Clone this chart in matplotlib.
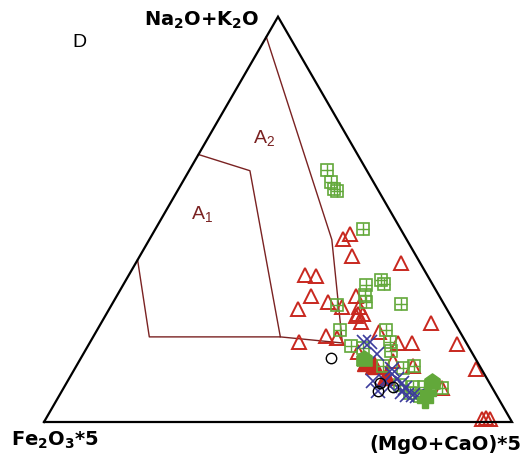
import numpy as np
import matplotlib
matplotlib.use("Agg")
import matplotlib.pyplot as plt

plt.rcParams['font.family'] = ['Liberation Sans', 'DejaVu Sans']
plt.rcParams['mathtext.fontset'] = 'custom'
plt.rcParams['mathtext.rm'] = 'Liberation Sans'
plt.rcParams['mathtext.bf'] = 'DejaVu Sans:bold'
plt.rcParams['mathtext.default'] = 'regular'

# compositions in % : Fe2O3*5, Na2O+K2O, (MgO+CaO)*5
# field boundaries
a1_fe  = [34, 25, 39, 67, 60]
a1_alk = [66, 62, 21, 21, 40]
a1_mg  = [0, 13, 40, 12, 0]

a2_fe  = [5, 16, 26.5, 39]
a2_alk = [95, 45, 19.5, 21]
a2_mg  = [0, 39, 54, 40]

# red open triangles
tri_fe  = [11.5, 13.5, 13.8, 4.1, 26.1, 23.9, 27.4, 31.8, 24.5, 22.2, 17.8, 19.6,
           18.5, 20.0, 20.3, 18.6, 29.1, 27.1, 35.6, 17.3, 5.1, 14.7, 11.7, 2.1,
           1.2, 17.9, 14.2, 10.7, 24.3, 6.0, 5.0, 4.4]
tri_alk = [46.3, 45.1, 40.9, 39.2, 36.2, 36.0, 31.0, 27.8, 29.6, 28.3, 31.0, 26.6,
           26.6, 24.6, 26.1, 28.3, 21.2, 20.7, 19.7, 22.2, 24.4, 19.5, 19.5, 19.2,
           13.1, 15.0, 13.8, 8.4, 17.2, 0.7, 1.0, 0.7]
tri_mg  = [42.2, 41.4, 45.3, 56.7, 37.7, 40.1, 41.6, 40.4, 45.9, 49.5, 51.2, 53.8,
           54.9, 55.4, 53.6, 53.1, 49.7, 52.2, 44.7, 60.5, 70.5, 65.8, 68.8, 78.7,
           85.7, 67.1, 72.0, 80.9, 58.5, 93.3, 94.0, 94.9]

# red filled triangles
ftri_fe  = [23.8, 22.5, 21.3]
ftri_alk = [14.8, 14.0, 11.3]
ftri_mg  = [61.4, 63.5, 67.4]

# green gridded squares
sq_fe  = [8.4, 9.2, 9.3, 8.9, 8.0, 14.3, 10.5, 10.3, 15.7, 16.4, 23.0, 9.2, 25.4,
          15.6, 25.0, 22.7, 16.3, 17.1, 20.7, 16.7, 14.0, 14.5, 16.8, 18.3, 19.4,
          10.7, 16.4]
sq_alk = [62.1, 59.1, 57.4, 57.1, 47.5, 33.7, 35.0, 34.0, 31.3, 29.6, 28.8, 29.1,
          22.7, 22.7, 18.7, 18.2, 19.7, 17.5, 13.8, 13.3, 13.8, 8.6, 8.6, 7.1, 9.1,
          8.4, 6.4]
sq_mg  = [29.5, 31.7, 33.3, 34.0, 44.5, 52.0, 54.5, 55.7, 53.0, 54.0, 48.2, 61.7,
          51.9, 61.7, 56.3, 59.1, 64.0, 65.4, 65.5, 70.0, 72.2, 76.9, 74.6, 74.6,
          71.5, 80.9, 77.2]

# blue crosses
x_fe  = [20.5, 20.5, 24.6, 19.7, 19.3, 18.7, 18.7, 19.0, 17.8, 21.6, 22.1, 17.1,
         19.0, 19.8, 21.8, 24.8]
x_alk = [19.7, 16.7, 10.1, 11.8, 10.6, 9.6, 8.4, 6.7, 6.7, 8.9, 10.1, 6.4,
         13.1, 7.4, 19.7, 7.6]
x_mg  = [59.8, 62.8, 65.3, 68.5, 70.1, 71.7, 72.9, 74.3, 75.5, 69.5, 67.8, 76.5,
         67.9, 72.8, 58.5, 67.6]

# black open circles
c_fe  = [30.8, 24.8, 23.4, 21.1]
c_alk = [15.8, 7.6, 9.6, 8.6]
c_mg  = [53.4, 67.6, 67.0, 70.3]

# green filled "house" symbols
h_fe  = [23.7, 12.1]
h_alk = [15.8, 10.1]
h_mg  = [60.5, 77.8]

# green filled crosses
p_fe  = [15.9, 14.4]
p_alk = [5.4, 7.1]
p_mg  = [78.7, 78.5]

S3 = np.sqrt(3) / 2


def tern(fe, alk, mg):
    fe, alk, mg = map(np.asarray, (fe, alk, mg))
    tot = fe + alk + mg
    a = alk / tot
    m = mg / tot
    return m + a / 2, a * S3


red = '#c8281f'
green = '#62a83a'
blue = '#3c3c9c'
brown = '#7a2222'

fig = plt.figure(figsize=(5.26, 4.60), dpi=100)
ax = fig.add_axes([0, 0, 1, 1])
ax.set_xlim(-44 / 468, 482 / 468)
ax.set_ylim(-37 / 468, 423 / 468)
ax.axis('off')

# outer triangle
ax.plot([0, 1, 0.5, 0], [0, 0, S3, 0], color='black', lw=1.6, zorder=5,
        solid_joinstyle='miter')

# fields A1 and A2
x1, y1 = tern(a1_fe, a1_alk, a1_mg)
ax.plot(x1, y1, color=brown, lw=1.0)
x2, y2 = tern(a2_fe, a2_alk, a2_mg)
ax.plot(x2, y2, color=brown, lw=1.0)

ax.text(0.470, 0.609, r'A$_2$', color=brown, fontsize=14, ha='center', va='center')
ax.text(0.338, 0.447, r'A$_1$', color=brown, fontsize=14, ha='center', va='center')

# samples
tx, ty = tern(tri_fe, tri_alk, tri_mg)
ax.plot(tx, ty, ls='none', marker='^', ms=10, mfc='none', mec=red, mew=1.4, zorder=3)
fx, fy = tern(ftri_fe, ftri_alk, ftri_mg)
ax.plot(fx, fy, ls='none', marker='^', ms=13, mfc=red, mec=red, zorder=3)
sx, sy = tern(sq_fe, sq_alk, sq_mg)
ax.plot(sx, sy, ls='none', marker='s', ms=8.5, mfc='none', mec=green, mew=1.2, zorder=4)
ax.plot(sx, sy, ls='none', marker='+', ms=8.5, mec=green, mew=1.0, zorder=4)
xx, xy = tern(x_fe, x_alk, x_mg)
ax.plot(xx, xy, ls='none', marker='x', ms=9.5, mec=blue, mew=1.2, zorder=4)
cx, cy = tern(c_fe, c_alk, c_mg)
ax.plot(cx, cy, ls='none', marker='o', ms=7.5, mfc='none', mec='black', mew=1.0, zorder=4)
house = [(-1, -1), (1, -1), (1, 0.3), (0, 1), (-1, 0.3), (-1, -1)]
hx, hy = tern(h_fe, h_alk, h_mg)
ax.plot(hx, hy, ls='none', marker=house, ms=11, mfc=green, mec=green, zorder=4)
px, py = tern(p_fe, p_alk, p_mg)
ax.plot(px, py, ls='none', marker='P', ms=11, mfc=green, mec=green, zorder=4)

# vertex labels
lab = dict(fontsize=14, fontweight='bold', family='DejaVu Sans',
           ha='center', va='center')
ax.text(0.338, 0.861, r'Na$_\mathbf{2}$O+K$_\mathbf{2}$O', **lab)
ax.text(0.024, -0.038, r'Fe$_\mathbf{2}$O$_\mathbf{3}$*5', **lab)
ax.text(0.857, -0.045, '(MgO+CaO)*5', **lab)
ax.text(0.076, 0.812, 'D', fontsize=14, ha='center', va='center')

fig.savefig('out.png', dpi=100)
